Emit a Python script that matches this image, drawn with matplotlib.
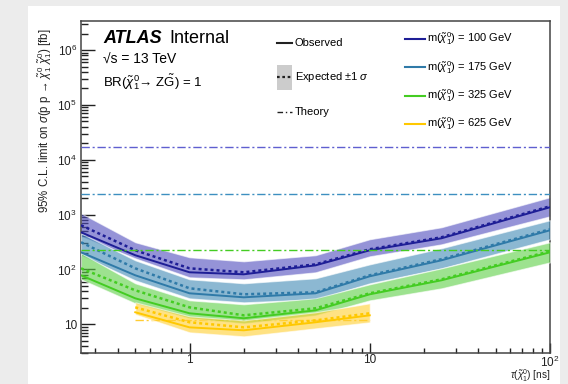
import numpy as np
import matplotlib
matplotlib.use('Agg')
import matplotlib.pyplot as plt
from matplotlib.patches import Rectangle

plt.rcParams['font.family'] = ['Liberation Sans', 'DejaVu Sans']
plt.rcParams['mathtext.fontset'] = 'custom'
plt.rcParams['mathtext.rm'] = 'Liberation Sans'
plt.rcParams['mathtext.it'] = 'Liberation Sans:italic'
plt.rcParams['mathtext.bf'] = 'Liberation Sans:bold'

# lifetimes [ns]
tau = [0.25, 0.5, 1, 2, 5, 10, 25, 100]
tau_625 = [0.5, 1, 2, 5, 10]

# m = 100 GeV
obs_100 = [477, 182, 88.9, 81.7, 119, 224, 371, 1365]
exp_100 = [641, 224, 105, 88.9, 124, 234, 387, 1423]
up_100 = [1061, 314, 167, 141, 182, 356, 589, 2078]
dn_100 = [403, 160, 72.1, 66.2, 88.9, 174, 288, 935]
# m = 175 GeV
obs_175 = [206, 78.4, 36.8, 31.1, 36.8, 75.2, 147, 519]
exp_175 = [314, 105, 45.4, 35.3, 38.4, 78.4, 154, 542]
up_175 = [458, 147, 66.2, 56.0, 69.1, 124, 244, 791]
dn_175 = [182, 63.5, 29.8, 25.2, 28.6, 56.0, 105, 356]
# m = 325 GeV
obs_325 = [78.4, 29.8, 15.9, 12.9, 18.0, 35.3, 63.5, 206]
exp_325 = [105, 41.7, 20.4, 14.6, 19.6, 36.8, 66.2, 215]
up_325 = [198, 56.0, 27.4, 23.2, 29.8, 53.7, 105, 314]
dn_325 = [66.2, 24.2, 12.9, 10.4, 14.6, 27.4, 45.4, 135]
# m = 625 GeV
obs_625 = [16.6, 8.81, 7.78, 10.9, 14.6]
exp_625 = [20.4, 10.9, 8.81, 11.8, 15.9]
up_625 = [25.2, 14.0, 11.8, 16.6, 24.2]
dn_625 = [15.2, 7.15, 6.04, 8.45, 10.9]

# theory cross sections [fb]
theory = [1.7e4, 2400, 222, 12.0]
mass_labels = ['100', '175', '325', '625']

line_cols = ['#1e1e96', '#2f7aa8', '#44cc22', '#ffc800']
band_cols = ['#4f4bbd', '#3f8ab4', '#5ccf44', '#ffcf30']
theo_cols = ['#5f5fd0', '#3d8fc0', '#44cc22', '#ffcc33']

yticks = [10, 1e2, 1e3, 1e4, 1e5, 1e6]
ytick_labels = ['10', r'$10^{2}$', r'$10^{3}$', r'$10^{4}$', r'$10^{5}$', r'$10^{6}$']
xticks = [1, 10, 100]
xtick_labels = ['1', '10', r'$10^{2}$']

chi = r'$\tilde{\chi}^{0}_{1}$'

fig = plt.figure(figsize=(5.68, 3.84), dpi=100)
fig.patch.set_facecolor('#ececec')
fig.patches.append(Rectangle((28/568, 0), (560-28)/568, (384-6)/384,
                             transform=fig.transFigure, facecolor='white',
                             edgecolor='none', zorder=-10))
ax = fig.add_axes([81/568, 31/384, 469/568, 332/384])
ax.set_facecolor('white')
ax.set_xscale('log')
ax.set_yscale('log')
ax.set_xlim(0.25, 100)
ax.set_ylim(3.0, 3.4e6)

series = [
    (tau, obs_100, exp_100, up_100, dn_100),
    (tau, obs_175, exp_175, up_175, dn_175),
    (tau, obs_325, exp_325, up_325, dn_325),
    (tau_625, obs_625, exp_625, up_625, dn_625),
]

for i, (t, o, e, u, d) in enumerate(series):
    ax.fill_between(t, d, u, color=band_cols[i], alpha=0.6, edgecolor='white',
                    linewidth=0.8, zorder=2 + i)
    ax.plot(t, e, color=line_cols[i], lw=1.8, ls=(0, (1.2, 1.2)), zorder=6 + i)
    ax.plot(t, o, color=line_cols[i], lw=1.4, zorder=10 + i)

# theory lines
for i in range(3):
    ax.plot([0.25, 100], [theory[i], theory[i]], color=theo_cols[i], lw=1,
            ls=(0, (6, 2, 1.5, 2)), zorder=14)
ax.plot([0.5, 10], [theory[3], theory[3]], color=theo_cols[3], lw=1,
        ls=(0, (6, 2, 1.5, 2)), zorder=1)

# axes styling
for sp in ax.spines.values():
    sp.set_color('#444444')
    sp.set_linewidth(1.1)
ax.yaxis.set_major_locator(matplotlib.ticker.FixedLocator(yticks))
ax.yaxis.set_major_formatter(matplotlib.ticker.FixedFormatter(ytick_labels))
ax.xaxis.set_major_locator(matplotlib.ticker.FixedLocator(xticks))
ax.xaxis.set_major_formatter(matplotlib.ticker.FixedFormatter(xtick_labels))
ax.yaxis.set_minor_locator(matplotlib.ticker.LogLocator(base=10, subs=np.arange(2, 10), numticks=20))
ax.xaxis.set_minor_locator(matplotlib.ticker.LogLocator(base=10, subs=np.arange(2, 10), numticks=20))
ax.yaxis.set_minor_formatter(matplotlib.ticker.NullFormatter())
ax.xaxis.set_minor_formatter(matplotlib.ticker.NullFormatter())
ax.tick_params(axis='both', which='both', direction='in', top=False, right=False,
               colors='#222222', labelsize=8.5, width=1)
ax.tick_params(axis='y', which='major', length=10, pad=3)
ax.tick_params(axis='y', which='minor', length=5)
ax.tick_params(axis='x', which='major', length=7, pad=1)
ax.tick_params(axis='x', which='minor', length=3.5)

fig.text(45/568, (384-28)/384,
         '95% C.L. limit on ' + r'$\sigma$' + '(p p → ' + chi + ' ' + chi + ') [fb]',
         rotation=90, ha='center', va='top', fontsize=8.3, color='#222222')
fig.text(550/568, (384-376)/384, r'$\tau$(' + chi + ') [ns]',
         ha='right', va='center', fontsize=7.2, color='#222222')

# labels
ax.text(0.047, 0.948, 'ATLAS', transform=ax.transAxes, fontsize=13,
        fontweight='bold', style='italic', va='center', ha='left')
ax.text(0.188, 0.948, 'Internal', transform=ax.transAxes, fontsize=13,
        va='center', ha='left')
ax.text(0.047, 0.884, '√s = 13 TeV', transform=ax.transAxes,
        fontsize=10, va='center', ha='left')
ax.text(0.047, 0.816, 'BR(' + chi + '→ Z' + r'$\tilde{\rm G}$' + ') = 1',
        transform=ax.transAxes, fontsize=9.5, va='center', ha='left')

# legend: styles
lx0, lx1 = 0.418, 0.450
ax.plot([lx0, lx1], [0.934, 0.934], transform=ax.transAxes, color='#222222', lw=1.5)
ax.text(0.456, 0.934, 'Observed', transform=ax.transAxes, fontsize=8, va='center')
ax.add_patch(Rectangle((lx0, 0.792), lx1 - lx0, 0.075, transform=ax.transAxes,
                       facecolor='#cccccc', edgecolor='none'))
ax.plot([lx0, lx1], [0.831, 0.831], transform=ax.transAxes, color='#222222',
        lw=1.6, ls=(0, (1.2, 1.2)))
ax.text(0.456, 0.831, r'Expected $\pm$1 $\sigma$', transform=ax.transAxes,
        fontsize=8, va='center')
ax.plot([lx0, lx1], [0.726, 0.726], transform=ax.transAxes, color='#222222',
        lw=1, ls=(0, (4, 2, 1, 2)))
ax.text(0.456, 0.726, 'Theory', transform=ax.transAxes, fontsize=8, va='center')

# legend: masses
ly = [0.946, 0.861, 0.774, 0.690]
for i in range(4):
    ax.plot([0.691, 0.733], [ly[i], ly[i]], transform=ax.transAxes,
            color=line_cols[i], lw=1.5)
    ax.text(0.738, ly[i], 'm(' + chi + ') = ' + mass_labels[i] + ' GeV',
            transform=ax.transAxes, fontsize=8, va='center')

fig.savefig('out.png', dpi=100, facecolor=fig.get_facecolor())
